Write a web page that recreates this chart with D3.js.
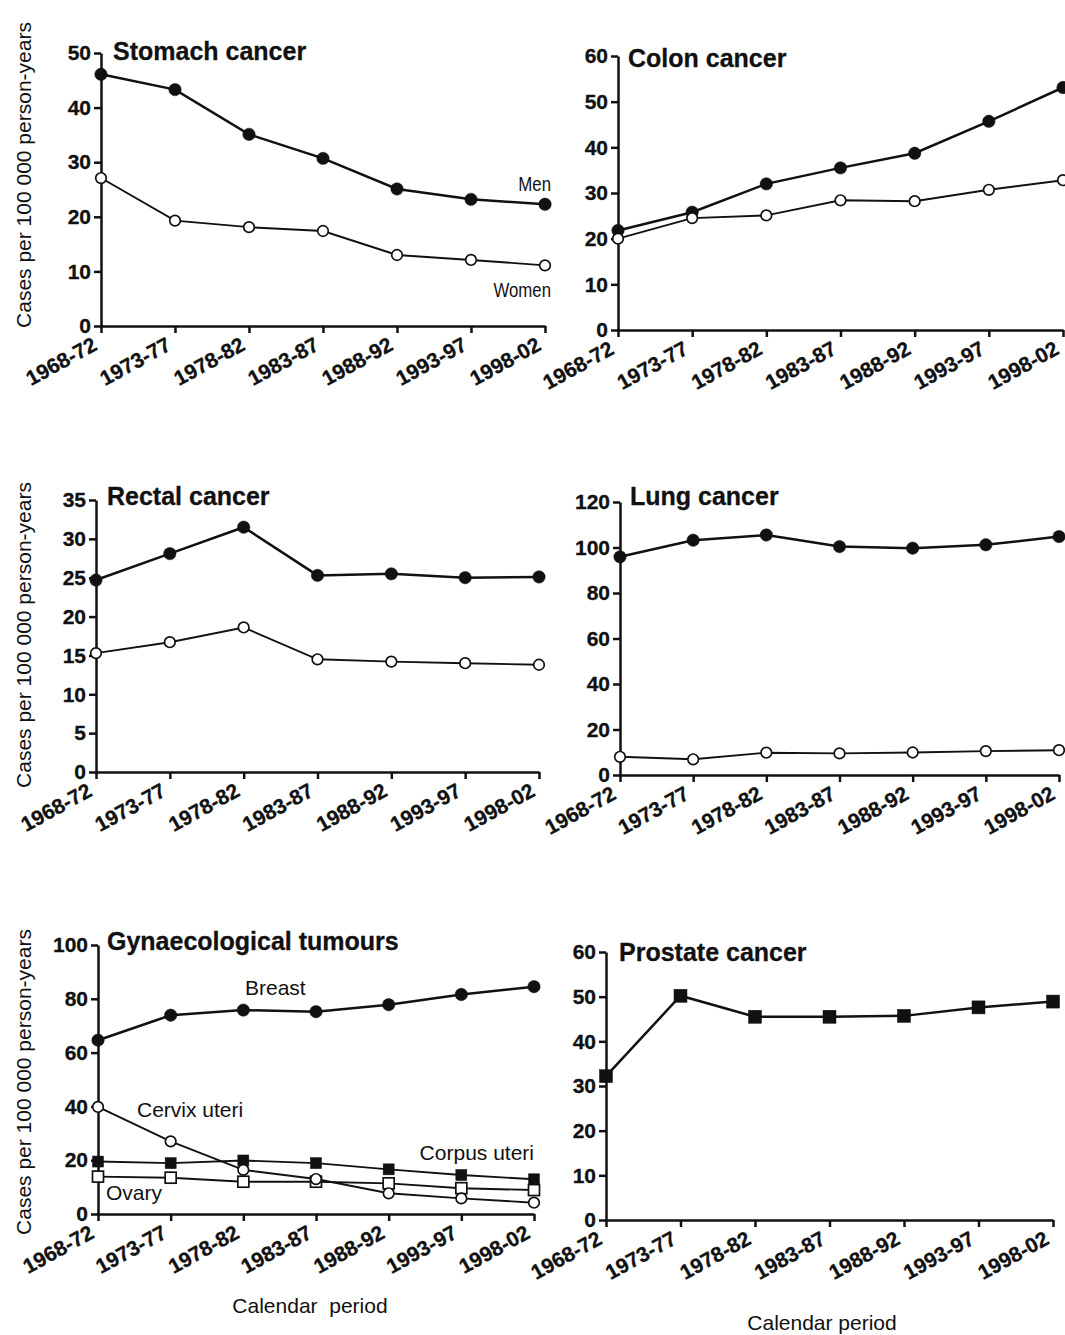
<!DOCTYPE html>
<html>
<head>
<meta charset="utf-8">
<script src="https://cdn.jsdelivr.net/npm/d3@7"></script>
<style>
  body { margin: 0; background: #fff; }
  svg { display: block; font-family: "Liberation Sans", Arial, Helvetica, sans-serif; }
  .axis path, .axis line { stroke: #111; stroke-width: 2.5; }
  .axis text { font-weight: bold; fill: #111; stroke: #111; stroke-width: 0.3; }
  .title { font-weight: bold; font-size: 25px; fill: #111; stroke: #111; stroke-width: 0.3; }
  .note { font-size: 21px; fill: #111; }
</style>
</head>
<body>
<svg id="canvas"></svg>
<script>
// calendar periods (x categories)
const periods = ["1968-72", "1973-77", "1978-82", "1983-87", "1988-92", "1993-97", "1998-02"]

// cases per 100 000 person-years
const stomachMen = [46.1, 43.3, 35.1, 30.7, 25.1, 23.2, 22.3]
const stomachWomen = [27.1, 19.3, 18.1, 17.4, 13.0, 12.1, 11.1]
const colonMen = [21.8, 25.8, 32.0, 35.5, 38.7, 45.7, 53.1]
const colonWomen = [20.0, 24.5, 25.1, 28.4, 28.2, 30.7, 32.8]
const rectalMen = [24.7, 28.1, 31.5, 25.3, 25.5, 25.0, 25.1]
const rectalWomen = [15.3, 16.7, 18.6, 14.5, 14.2, 14.0, 13.8]
const lungMen = [95.9, 103.2, 105.5, 100.4, 99.7, 101.2, 104.8]
const lungWomen = [8.0, 6.9, 9.8, 9.5, 9.9, 10.5, 10.9]
const breast = [64.6, 73.9, 75.8, 75.2, 77.8, 81.6, 84.5]
const cervixUteri = [39.8, 27.0, 16.4, 13.0, 7.7, 5.8, 4.2]
const corpusUteri = [19.5, 18.9, 19.9, 18.9, 16.6, 14.5, 12.9]
const ovary = [13.9, 13.5, 12.0, 12.0, 11.4, 9.6, 8.9]
const prostate = [32.2, 50.2, 45.5, 45.5, 45.7, 47.6, 48.9]

// y tick labels
const stomachTicks = [0, 10, 20, 30, 40, 50]
const colonTicks = [0, 10, 20, 30, 40, 50, 60]
const rectalTicks = [0, 5, 10, 15, 20, 25, 30, 35]
const lungTicks = [0, 20, 40, 60, 80, 100, 120]
const gynTicks = [0, 20, 40, 60, 80, 100]
const prostateTicks = [0, 10, 20, 30, 40, 50, 60]

const yLabel = "Cases per 100 000 person-years"
const xLabel = "Calendar period"

const width = 1065
const height = 1335

const canvas = d3.select("#canvas")
  .attr("width", width)
  .attr("height", height)

// layout of the six panels
const panels = [
  { title: "Stomach cancer", x0: 101, x1: 545, yTop: 53, yBot: 326, ticks: stomachTicks, tx: 113, ty: 60,
    series: [{ values: stomachMen, mark: "dot" }, { values: stomachWomen, mark: "ring" }] },
  { title: "Colon cancer", x0: 618, x1: 1063, yTop: 56, yBot: 330, ticks: colonTicks, tx: 628, ty: 67,
    series: [{ values: colonMen, mark: "dot" }, { values: colonWomen, mark: "ring" }] },
  { title: "Rectal cancer", x0: 96, x1: 539, yTop: 500, yBot: 772, ticks: rectalTicks, tx: 107, ty: 505,
    series: [{ values: rectalMen, mark: "dot" }, { values: rectalWomen, mark: "ring" }] },
  { title: "Lung cancer", x0: 620, x1: 1059, yTop: 502, yBot: 775, ticks: lungTicks, tx: 630, ty: 505,
    series: [{ values: lungMen, mark: "dot" }, { values: lungWomen, mark: "ring" }] },
  { title: "Gynaecological tumours", x0: 98, x1: 534, yTop: 945, yBot: 1214, ticks: gynTicks, tx: 107, ty: 950,
    series: [{ values: ovary, mark: "box" }, { values: corpusUteri, mark: "square" },
             { values: cervixUteri, mark: "ring" }, { values: breast, mark: "dot" }] },
  { title: "Prostate cancer", x0: 606, x1: 1053, yTop: 952, yBot: 1220, ticks: prostateTicks, tx: 619, ty: 961,
    series: [{ values: prostate, mark: "bigsquare" }] }
]

const drawPanel = (p) => {
  const xScale = d3.scalePoint().domain(periods).range([p.x0, p.x1])
  const yScale = d3.scaleLinear().domain([0, d3.max(p.ticks)]).range([p.yBot, p.yTop])

  const g = canvas.append("g")

  const xAxis = g.append("g")
    .attr("class", "axis")
    .attr("transform", "translate(0," + p.yBot + ")")
    .call(d3.axisBottom(xScale).tickSize(7).tickSizeOuter(0))
    .attr("font-family", null)
    .attr("font-size", 21)
  xAxis.selectAll("text")
    .attr("text-anchor", "end")
    .attr("x", -3)
    .attr("y", 23)
    .attr("dy", 0)
    .attr("transform", "rotate(-29,-3,23)")

  g.append("g")
    .attr("class", "axis")
    .attr("transform", "translate(" + p.x0 + ",0)")
    .call(d3.axisLeft(yScale).tickValues(p.ticks).tickSize(7).tickSizeOuter(0).tickPadding(3))
    .attr("font-family", null)
    .attr("font-size", 21)

  g.append("text")
    .attr("class", "title")
    .attr("x", p.tx)
    .attr("y", p.ty)
    .text(p.title)

  const line = d3.line()
    .x((d, i) => xScale(periods[i]))
    .y(d => yScale(d))

  p.series.forEach(s => {
    g.append("path")
      .datum(s.values)
      .attr("fill", "none")
      .attr("stroke", "#111")
      .attr("stroke-width", s.mark == "dot" || s.mark == "bigsquare" ? 2.5 : 1.9)
      .attr("d", line)
  })

  p.series.forEach(s => {
    const pts = g.append("g").selectAll("g")
      .data(s.values)
      .enter()
    if (s.mark == "dot" || s.mark == "ring") {
      pts.append("circle")
        .attr("cx", (d, i) => xScale(periods[i]))
        .attr("cy", d => yScale(d))
        .attr("r", s.mark == "dot" ? 6.2 : 5.3)
        .attr("fill", s.mark == "dot" ? "#111" : "#fff")
        .attr("stroke", "#111")
        .attr("stroke-width", s.mark == "dot" ? 0.5 : 1.7)
    } else {
      const size = s.mark == "bigsquare" ? 13 : 11
      pts.append("rect")
        .attr("x", (d, i) => xScale(periods[i]) - size / 2)
        .attr("y", d => yScale(d) - size / 2)
        .attr("width", size)
        .attr("height", size)
        .attr("fill", s.mark == "box" ? "#fff" : "#111")
        .attr("stroke", "#111")
        .attr("stroke-width", s.mark == "box" ? 1.7 : 0.5)
    }
  })
}

panels.forEach(drawPanel)

// y axis titles on the left column
const yTitleCenters = [175, 635, 1082]
yTitleCenters.forEach(cy => {
  canvas.append("text")
    .attr("class", "note")
    .attr("font-size", 23)
    .attr("text-anchor", "middle")
    .attr("transform", "translate(31," + cy + ") rotate(-90)")
    .text(yLabel)
})

// x axis titles under the bottom row
canvas.append("text").attr("class", "note").attr("font-size", 22)
  .attr("text-anchor", "middle").attr("x", 310).attr("y", 1313)
  .style("white-space", "pre")
  .text("Calendar  period")
canvas.append("text").attr("class", "note").attr("font-size", 22)
  .attr("text-anchor", "middle").attr("x", 822).attr("y", 1330)
  .text(xLabel)

// series labels (narrow type in the stomach panel)
canvas.append("text").attr("class", "note").attr("font-size", 22).attr("text-anchor", "end")
  .attr("transform", "translate(551,191) scale(0.8,1)").text("Men")
canvas.append("text").attr("class", "note").attr("font-size", 22).attr("text-anchor", "end")
  .attr("transform", "translate(551,297) scale(0.8,1)").text("Women")

canvas.append("text").attr("class", "note").attr("x", 245).attr("y", 995).text("Breast")
canvas.append("text").attr("class", "note").attr("x", 137).attr("y", 1117).text("Cervix uteri")
canvas.append("text").attr("class", "note").attr("text-anchor", "end").attr("x", 534).attr("y", 1160).text("Corpus uteri")
canvas.append("text").attr("class", "note").attr("x", 106).attr("y", 1200).text("Ovary")
</script>
</body>
</html>
